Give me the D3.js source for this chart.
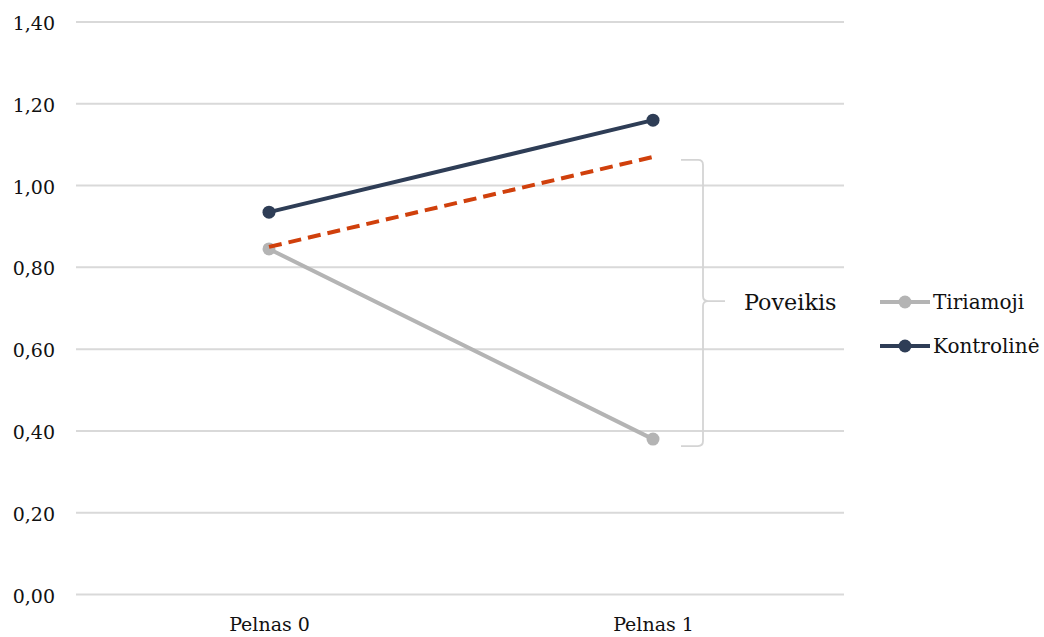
<!DOCTYPE html>
<html>
<head>
<meta charset="utf-8">
<script src="https://cdn.jsdelivr.net/npm/d3@7/dist/d3.min.js"></script>
<style>
  html, body { margin: 0; padding: 0; background: #fff; }
  svg { display: block; }
  text { font-family: "DejaVu Serif", "Liberation Serif", serif; fill: #111; }
</style>
</head>
<body>
<svg id="chart" width="1044" height="637"></svg>
<script>
// Categories and series
const categories = ["Pelnas 0", "Pelnas 1"];
const tiriamoji = [0.845, 0.38];
const kontroline = [0.935, 1.16];
const expected = [0.85, 1.07];   // dashed counterfactual line
const seriesNames = ["Tiriamoji", "Kontrolinė"];
const yTicks = [0, 0.2, 0.4, 0.6, 0.8, 1.0, 1.2, 1.4];
const effectLabel = "Poveikis";

const colors = { Tiriamoji: "#b4b4b4", "Kontrolinė": "#2e3d56", dashed: "#d0400c", grid: "#d9d9d9", brace: "#d4d4d4" };

const svg = d3.select("#chart");
const plot = { left: 76, right: 844, top: 22, bottom: 594.5 };

const x = d3.scalePoint().domain(categories).range([plot.left + 1, plot.right + 1]).padding(0.5);
const y = d3.scaleLinear().domain([0, 1.4]).range([plot.bottom, plot.top]);

const fmt = v => d3.format(".2f")(v).replace(".", ",");

// Gridlines
svg.append("g").selectAll("line").data(yTicks).join("line")
  .attr("x1", plot.left).attr("x2", plot.right)
  .attr("y1", d => y(d)).attr("y2", d => y(d))
  .attr("stroke", colors.grid).attr("stroke-width", 2);

// Y axis labels
const yAxis = svg.append("g").attr("transform", `translate(${plot.left - 21},1.5)`)
  .call(d3.axisLeft(y).tickValues(yTicks).tickFormat(fmt).tickSize(0).tickPadding(0));
yAxis.select(".domain").remove();
yAxis.selectAll("text").attr("font-size", 19).attr("font-family", "DejaVu Serif").attr("fill", "#111");

// X axis labels
const xAxis = svg.append("g").attr("transform", `translate(0,${plot.bottom + 22})`)
  .call(d3.axisBottom(x).tickSize(0).tickPadding(0));
xAxis.select(".domain").remove();
xAxis.selectAll("text").attr("font-size", 19).attr("font-family", "DejaVu Serif").attr("fill", "#111")
  .attr("dy", "0.75em");

const line = d3.line().x((d, i) => x(categories[i])).y(d => y(d));

// Series lines
function drawSeries(values, color) {
  svg.append("path").datum(values).attr("d", line)
    .attr("fill", "none").attr("stroke", color).attr("stroke-width", 4).attr("stroke-linecap", "round");
  svg.append("g").selectAll("circle").data(values).join("circle")
    .attr("cx", (d, i) => x(categories[i])).attr("cy", d => y(d)).attr("r", 6.5).attr("fill", color);
}
drawSeries(tiriamoji, colors.Tiriamoji);
drawSeries(kontroline, colors["Kontrolinė"]);

// Dashed expected trend
svg.append("path").datum(expected).attr("d", line)
  .attr("fill", "none").attr("stroke", colors.dashed).attr("stroke-width", 4)
  .attr("stroke-dasharray", "13,7");

// Brace between expected end value and treated end value
const bx = x(categories[1]) + 50;
const yTop = y(expected[1]) + 3;
const yBot = y(tiriamoji[1]) + 7;
const yMid = (yTop + yBot) / 2 - 2;
const r = 5;
const bx0 = bx - 22;
const bracePath = [
  `M${bx0},${yTop}`,
  `L${bx - r},${yTop}`,
  `Q${bx},${yTop} ${bx},${yTop + r}`,
  `L${bx},${yMid - r}`,
  `Q${bx},${yMid} ${bx + r},${yMid}`,
  `L${bx + 22},${yMid}`,
  `M${bx + r},${yMid}`,
  `Q${bx},${yMid} ${bx},${yMid + r}`,
  `L${bx},${yBot - r}`,
  `Q${bx},${yBot} ${bx - r},${yBot}`,
  `L${bx0},${yBot}`
].join(" ");
svg.append("path").attr("d", bracePath).attr("fill", "none")
  .attr("stroke", colors.brace).attr("stroke-width", 1.8);

svg.append("text").attr("x", bx + 41).attr("y", yMid + 1).attr("dy", "0.35em")
  .attr("font-size", 22.3).text(effectLabel);

// Legend
const legend = svg.append("g").attr("transform", "translate(880,302)");
seriesNames.forEach((name, i) => {
  const g = legend.append("g").attr("transform", `translate(0,${i * 44})`);
  g.append("line").attr("x1", 0).attr("x2", 50).attr("stroke", colors[name]).attr("stroke-width", 4);
  g.append("circle").attr("cx", 25).attr("r", 6.5).attr("fill", colors[name]);
  g.append("text").attr("x", 53).attr("dy", "0.35em").attr("font-size", 20).text(name);
});
</script>
</body>
</html>
